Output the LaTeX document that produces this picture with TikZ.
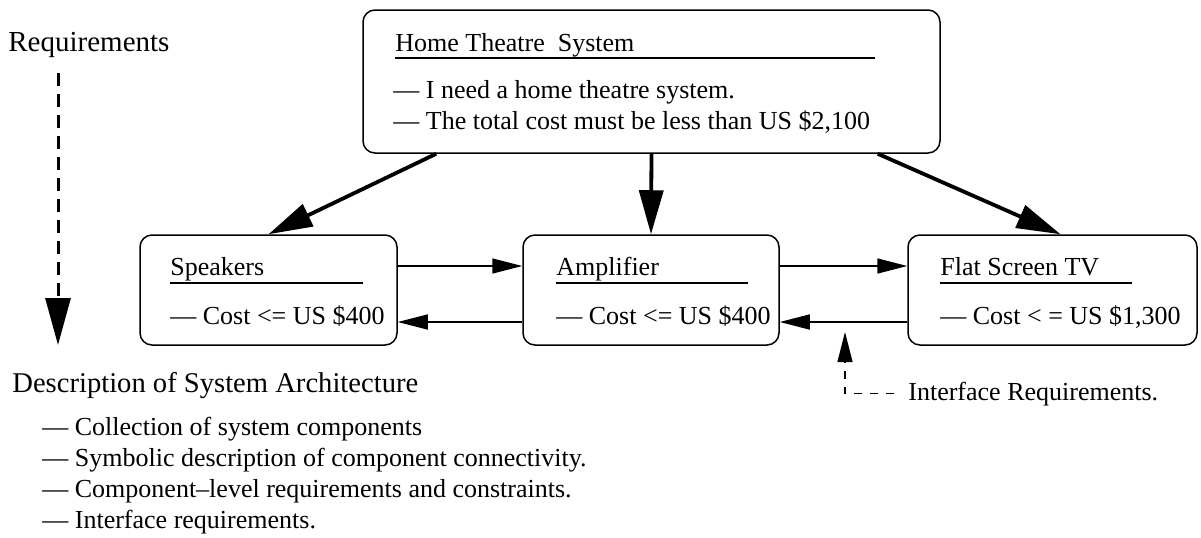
\documentclass[tikz,border=0pt]{standalone}
\usepackage{fontspec}
\setmainfont{Liberation Serif}
\usetikzlibrary{arrows.meta,calc}
\begin{document}
\begin{tikzpicture}[x=0.5pt,y=-0.5pt,
  box/.style={draw,line width=0.75pt,rounded corners=6pt,inner sep=0pt},
  txt/.style={inner sep=0pt,anchor=base west,font=\fontsize{13pt}{15pt}\selectfont},
  uline/.style={line width=0.75pt},
  bigarrow/.style={line width=1.9pt,-{Triangle[length=22pt,width=12pt]}},
  harrow/.style={line width=0.75pt,-{Triangle[length=15pt,width=7.5pt]}},
  reqarrow/.style={line width=1.5pt,dash pattern=on 6.5pt off 4pt,-{Triangle[length=23.5pt,width=12.5pt]}},
  ifarrow/.style={line width=0.6pt,dash pattern=on 4pt off 4pt,-{Triangle[length=15pt,width=7.5pt]}}
]
\useasboundingbox (0,0) rectangle (1201,537);
% boxes
\node[box,minimum width=288.5pt,minimum height=71.5pt] (top) at (651.5,81.5) {};
\node[box,minimum width=128.5pt,minimum height=55pt] (spk) at (268.5,290) {};
\node[box,minimum width=128pt,minimum height=55pt] (amp) at (651,290) {};
\node[box,minimum width=144.5pt,minimum height=55pt] (tv) at (1052.5,290) {};
% top box text
\node[txt] (toptitle) at (395,51) {Home Theatre\ \ System};
\draw[uline] (395,58) -- (875,58);
\node[txt] (topl1) at (393,98) {--- I need a home theatre system.};
\node[txt] (topl2) at (393,129) {--- The total cost must be less than US \$2,100};
% speakers
\node[txt] (spkt) at (170,275) {Speakers};
\draw[uline] (170,283) -- (363,283);
\node[txt] (spkc) at (170,324) {--- Cost <= US \$400};
% amplifier
\node[txt] (ampt) at (556,275) {Amplifier};
\draw[uline] (556,283) -- (748,283);
\node[txt] (ampc) at (556,324) {--- Cost <= US \$400};
% TV
\node[txt] (tvt) at (940,275) {Flat Screen TV};
\draw[uline] (940,283) -- (1132,283);
\node[txt] (tvc) at (940,324) {--- Cost < = US \$1,300};
% top arrows
\draw[bigarrow] ($(top.south west)+(74,0)$) -- (spk.north);
\draw[bigarrow] (top.south) -- (amp.north);
\draw[bigarrow] ($(top.south east)+(-63,0)$) -- ($(tv.north)+(8,0)$);
% interface arrows
\draw[harrow] (spk.east |- 0,266) -- (amp.west |- 0,266);
\draw[harrow] (amp.east |- 0,266) -- (tv.west |- 0,266);
\draw[harrow] (amp.west |- 0,322) -- (spk.east |- 0,322);
\draw[harrow] (tv.west |- 0,322) -- (amp.east |- 0,322);
% requirements
\node[txt,font=\fontsize{14.5pt}{16pt}\selectfont] (req) at (8,51) {Requirements};
\coordinate (reqtip) at (58,345);
\draw[reqarrow] (58,73) -- (reqtip);
% interface requirements label
\node[txt] (iface) at (908,400) {Interface Requirements.};
\coordinate (iftip) at (845,332);
\draw[ifarrow] ($(iface.west)+(-14,0)$) -| (iftip);
% description
\node[txt,font=\fontsize{14.3pt}{16pt}\selectfont] (desc) at (12,392) {Description of System Architecture};
\node[txt] (d1) at (42,435) {--- Collection of system components};
\node[txt] (d2) at (42,466) {--- Symbolic description of component connectivity.};
\node[txt] (d3) at (42,497) {--- Component--level requirements and constraints.};
\node[txt] (d4) at (42,528) {--- Interface requirements.};
\end{tikzpicture}
\end{document}
